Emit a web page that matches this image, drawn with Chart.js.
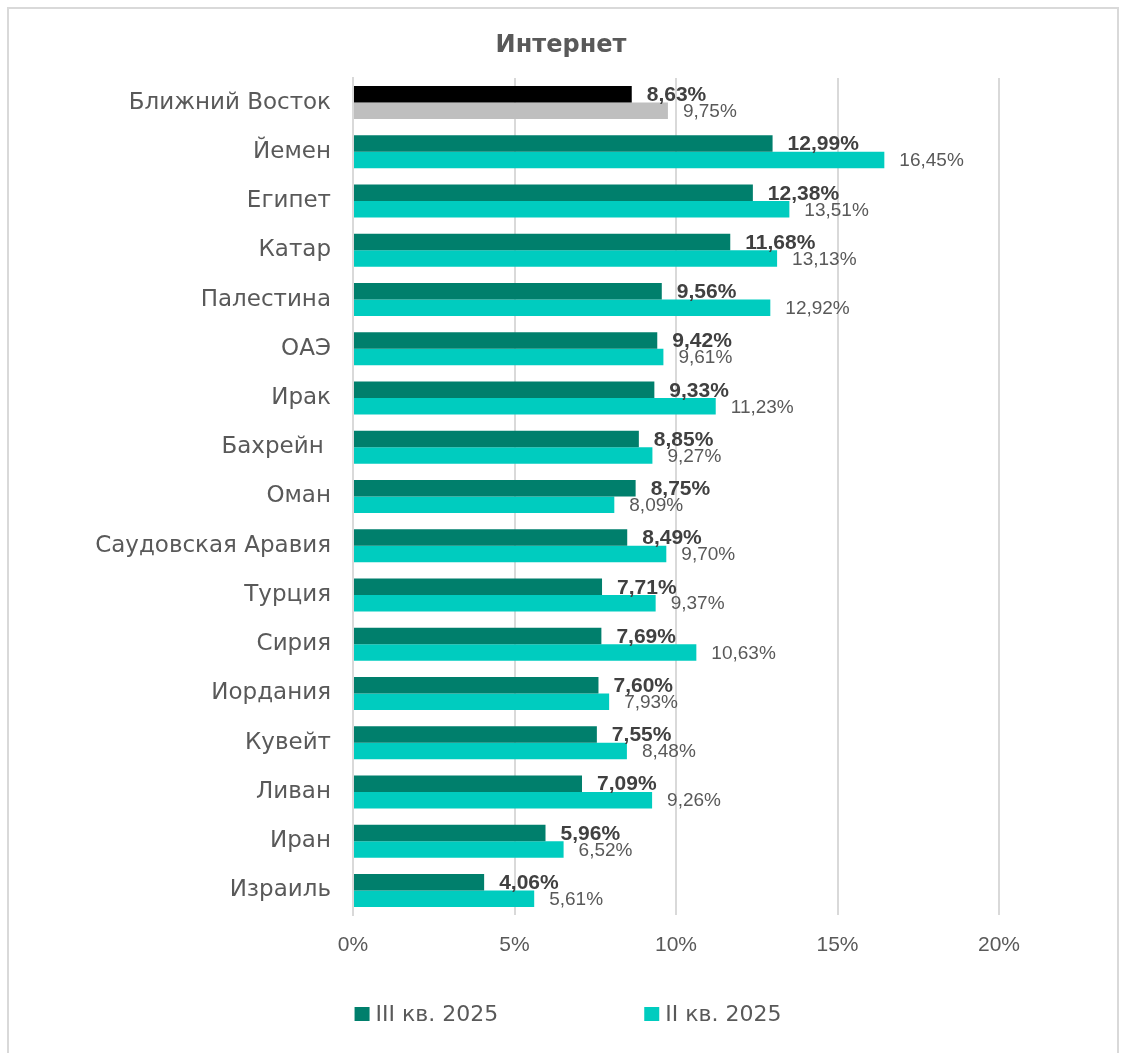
<!DOCTYPE html>
<html lang="ru">
<head>
<meta charset="utf-8">
<title>Интернет</title>
<script src="https://cdn.jsdelivr.net/npm/chart.js@4.4.1/dist/chart.umd.min.js"></script>
<style>
  html, body { margin: 0; padding: 0; background: #ffffff; }
  #wrap { position: relative; width: 1122px; height: 1053px; overflow: hidden; }
  #frame {
    position: absolute; left: 7px; top: 7px; width: 1112px; height: 1060px;
    border: 2px solid #d9d9d9; box-sizing: border-box; pointer-events: none;
  }
  canvas { position: absolute; left: 0; top: 0; }
</style>
</head>
<body>
<div id="wrap">
  <canvas id="chart" width="1122" height="1053"></canvas>
  <div id="frame"></div>
</div>
<script>
const chartTitle = 'Интернет';
const categories = [
  'Ближний Восток', 'Йемен', 'Египет', 'Катар', 'Палестина', 'ОАЭ', 'Ирак',
  'Бахрейн ', 'Оман', 'Саудовская Аравия', 'Турция', 'Сирия', 'Иордания',
  'Кувейт', 'Ливан', 'Иран', 'Израиль'
];
const q3Values = [8.63, 12.99, 12.38, 11.68, 9.56, 9.42, 9.33, 8.85, 8.75, 8.49, 7.71, 7.69, 7.60, 7.55, 7.09, 5.96, 4.06];
const q2Values = [9.75, 16.45, 13.51, 13.13, 12.92, 9.61, 11.23, 9.27, 8.09, 9.70, 9.37, 10.63, 7.93, 8.48, 9.26, 6.52, 5.61];
const xTicks = [0, 5, 10, 15, 20];
const seriesNames = ['III кв. 2025', 'II кв. 2025'];

const TEXT_FONT = '"DejaVu Sans", sans-serif';
const NUM_FONT = '"Liberation Sans", Arial, sans-serif';
const Q3_COLOR = '#007f6c';
const Q2_COLOR = '#00ccbf';
const REGION_Q3 = '#000000';
const REGION_Q2 = '#bfbfbf';

Chart.defaults.font.family = NUM_FONT;
Chart.defaults.color = '#595959';

const fmt = v => v.toFixed(2).replace('.', ',') + '%';

// Title centred over the whole canvas
const headTitle = {
  id: 'headTitle',
  afterDraw(chart) {
    const ctx = chart.ctx;
    ctx.save();
    ctx.font = 'bold 24px ' + TEXT_FONT;
    ctx.fillStyle = '#595959';
    ctx.textAlign = 'center';
    ctx.textBaseline = 'middle';
    ctx.fillText(chartTitle, chart.width / 2, 46);
    ctx.restore();
  }
};

// Value labels to the right of each bar
const valueLabels = {
  id: 'valueLabels',
  afterDatasetsDraw(chart) {
    const ctx = chart.ctx;
    ctx.save();
    ctx.textAlign = 'left';
    ctx.textBaseline = 'middle';
    chart.data.datasets.forEach((ds, di) => {
      const meta = chart.getDatasetMeta(di);
      ctx.font = di === 0 ? 'bold 21px ' + NUM_FONT : '19px ' + NUM_FONT;
      ctx.fillStyle = di === 0 ? '#404040' : '#595959';
      meta.data.forEach((bar, i) => {
        ctx.fillText(fmt(ds.data[i]), bar.x + 15, bar.y + 1);
      });
    });
    ctx.restore();
  }
};

// Legend row under the axis
const bottomLegend = {
  id: 'bottomLegend',
  afterDraw(chart) {
    const ctx = chart.ctx;
    ctx.save();
    ctx.font = '22px ' + TEXT_FONT;
    ctx.textBaseline = 'middle';
    ctx.textAlign = 'left';
    const box = 15, gapText = 6, gapItems = 146, y = 1014;
    const colors = [Q3_COLOR, Q2_COLOR];
    const widths = seriesNames.map(n => box + gapText + ctx.measureText(n).width);
    const total = widths[0] + gapItems + widths[1];
    let x = 568 - total / 2;
    seriesNames.forEach((n, i) => {
      ctx.fillStyle = colors[i];
      ctx.fillRect(x, y - 7, box, 14);
      ctx.fillStyle = '#595959';
      ctx.fillText(n, x + box + gapText, y + 1);
      x += widths[i] + gapItems;
    });
    ctx.restore();
  }
};

new Chart(document.getElementById('chart'), {
  type: 'bar',
  data: {
    labels: categories,
    datasets: [
      {
        label: seriesNames[0],
        data: q3Values,
        backgroundColor: categories.map((c, i) => i === 0 ? REGION_Q3 : Q3_COLOR),
        categoryPercentage: 0.67,
        barPercentage: 1.0
      },
      {
        label: seriesNames[1],
        data: q2Values,
        backgroundColor: categories.map((c, i) => i === 0 ? REGION_Q2 : Q2_COLOR),
        categoryPercentage: 0.67,
        barPercentage: 1.0
      }
    ]
  },
  options: {
    indexAxis: 'y',
    responsive: false,
    animation: false,
    devicePixelRatio: 1,
    layout: { padding: { left: 0, right: 123, top: 78, bottom: 96 } },
    plugins: {
      legend: { display: false },
      tooltip: { enabled: false },
      title: { display: false }
    },
    scales: {
      x: {
        min: 0,
        max: 20,
        afterBuildTicks: scale => { scale.ticks = xTicks.map(v => ({ value: v })); },
        afterFit: scale => { scale.height = 42; },
        ticks: {
          padding: 18,
          color: '#595959',
          font: { size: 21, family: NUM_FONT },
          callback: v => v + '%'
        },
        grid: { color: '#d9d9d9', lineWidth: 2, drawTicks: false },
        border: { display: false }
      },
      y: {
        afterFit: scale => { scale.width = 353; },
        ticks: {
          padding: 22,
          color: '#595959',
          font: { size: 23, family: TEXT_FONT },
          autoSkip: false
        },
        grid: { display: false, drawTicks: false },
        border: { display: true, color: '#d9d9d9', width: 2 }
      }
    }
  },
  plugins: [valueLabels, headTitle, bottomLegend]
});
</script>
</body>
</html>
